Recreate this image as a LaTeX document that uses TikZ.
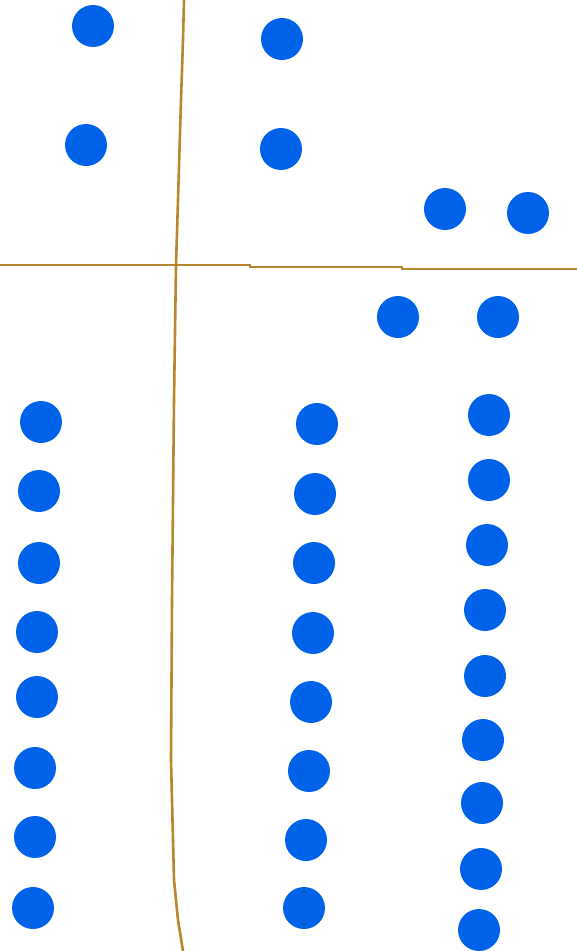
\documentclass[tikz,border=0pt]{standalone}
\definecolor{dotblue}{HTML}{0062E8}
\definecolor{rule}{HTML}{B8862F}
\begin{document}
\begin{tikzpicture}[x=1pt,y=-1pt,
  dot/.style={circle,fill=dotblue,inner sep=0pt,minimum size=42pt},
  divider/.style={draw=rule,line width=2.6pt}]
\useasboundingbox (0,0) rectangle (577,951);
% dividers
\draw[divider] (184,0) -- (183,40) -- (181,100) -- (178,200) -- (176,265) -- (174,400) -- (172,600) -- (171,760) -- (174,880) -- (178,920) -- (183,951);
\draw[divider] (0,265) -- (250,265) -- (250,267) -- (402,267) -- (402,269) -- (577,269);
% top dots
\node[dot] (t1) at (93,26) {};
\node[dot] (t2) at (282,39) {};
\node[dot] (t3) at (86,145) {};
\node[dot] (t4) at (281,149) {};
\node[dot] (t5) at (445,209) {};
\node[dot] (t6) at (528,213) {};
\node[dot] (t7) at (398,317) {};
\node[dot] (t8) at (498,317) {};
% left column
\node[dot] (l1) at (41,422) {};
\node[dot] (l2) at (39,491) {};
\node[dot] (l3) at (39,563) {};
\node[dot] (l4) at (37,632) {};
\node[dot] (l5) at (37,697) {};
\node[dot] (l6) at (35,768) {};
\node[dot] (l7) at (35,837) {};
\node[dot] (l8) at (33,908) {};
% middle column
\node[dot] (m1) at (317,424) {};
\node[dot] (m2) at (315,494) {};
\node[dot] (m3) at (314,563) {};
\node[dot] (m4) at (313,633) {};
\node[dot] (m5) at (311,702) {};
\node[dot] (m6) at (309,771) {};
\node[dot] (m7) at (306,840) {};
\node[dot] (m8) at (304,908) {};
% right column
\node[dot] (r1) at (489,415) {};
\node[dot] (r2) at (489,480) {};
\node[dot] (r3) at (487,545) {};
\node[dot] (r4) at (485,610) {};
\node[dot] (r5) at (485,676) {};
\node[dot] (r6) at (483,740) {};
\node[dot] (r7) at (482,803) {};
\node[dot] (r8) at (481,869) {};
\node[dot] (r9) at (479,930) {};
\end{tikzpicture}
\end{document}
